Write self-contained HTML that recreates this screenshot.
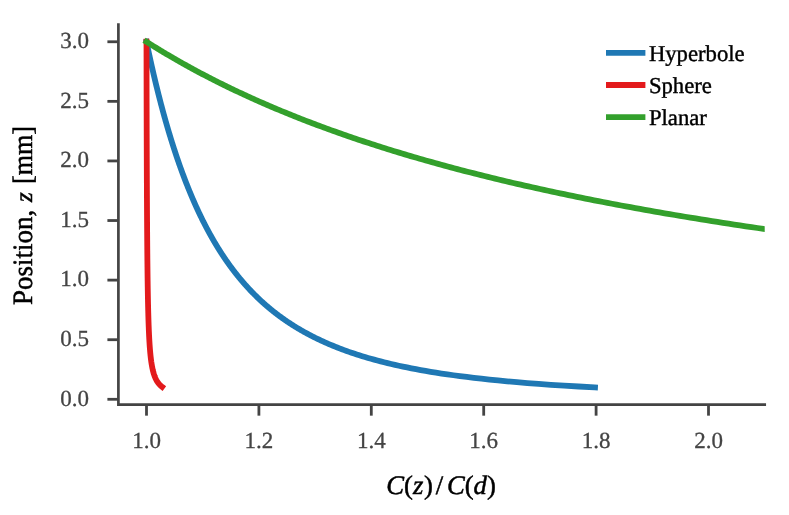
<!DOCTYPE html>
<html><head><meta charset="utf-8"><title>chart</title>
<style>
html,body{margin:0;padding:0;background:#fff;}
body{width:789px;height:515px;overflow:hidden;}
svg{display:block;will-change:transform;}
text{font-family:"Liberation Serif",serif;text-rendering:geometricPrecision;}
.tk{font-size:23px;fill:#444444;stroke:#444444;stroke-width:0.3px;}
.lb{font-size:28px;fill:#000;stroke:#000;stroke-width:0.5px;}
.lg{font-size:22.7px;fill:#000;stroke:#000;stroke-width:0.4px;}
</style></head><body>
<svg width="789" height="515" viewBox="0 0 789 515">
<rect width="789" height="515" fill="#ffffff"/>
<defs><clipPath id="ax"><rect x="118.40" y="24.48" width="646.30" height="380.18"/></clipPath></defs>
<g clip-path="url(#ax)" fill="none" stroke-width="5.8" stroke-linecap="butt" stroke-linejoin="round">
<polyline stroke="#1f78b4" points="597.91,387.55 594.72,387.38 578.68,386.52 564.13,385.65 550.83,384.78 538.61,383.92 527.33,383.05 516.86,382.18 507.12,381.32 498.01,380.45 489.47,379.59 481.44,378.72 473.87,377.85 466.72,376.99 459.94,376.12 453.50,375.25 447.38,374.39 441.54,373.52 435.97,372.66 430.65,371.79 425.55,370.92 420.66,370.06 415.97,369.19 411.45,368.33 407.11,367.46 402.93,366.59 398.89,365.73 395.00,364.86 391.23,363.99 387.59,363.13 384.07,362.26 380.66,361.40 377.35,360.53 374.14,359.66 371.03,358.80 368.00,357.93 365.06,357.06 362.20,356.20 359.42,355.33 356.70,354.47 354.06,353.60 351.49,352.73 348.98,351.87 346.53,351.00 344.14,350.13 341.80,349.27 339.52,348.40 337.29,347.54 335.11,346.67 332.98,345.80 330.89,344.94 328.85,344.07 326.85,343.20 324.89,342.34 322.97,341.47 321.09,340.61 319.25,339.74 317.44,338.87 315.66,338.01 313.92,337.14 312.21,336.27 310.53,335.41 308.88,334.54 307.26,333.68 305.67,332.81 304.11,331.94 302.57,331.08 301.06,330.21 299.57,329.35 298.11,328.48 296.67,327.61 295.25,326.75 293.86,325.88 292.49,325.01 291.14,324.15 289.81,323.28 288.50,322.42 287.21,321.55 285.93,320.68 284.68,319.82 283.44,318.95 282.22,318.08 281.02,317.22 279.84,316.35 278.67,315.49 277.52,314.62 276.38,313.75 275.26,312.89 274.15,312.02 273.06,311.15 271.98,310.29 270.91,309.42 269.86,308.56 268.82,307.69 267.79,306.82 266.78,305.96 265.78,305.09 264.79,304.22 263.81,303.36 262.85,302.49 261.89,301.63 260.95,300.76 260.02,299.89 259.09,299.03 258.18,298.16 257.28,297.30 256.39,296.43 255.51,295.56 254.63,294.70 253.77,293.83 252.92,292.96 252.07,292.10 251.24,291.23 250.41,290.37 249.59,289.50 248.78,288.63 247.98,287.77 247.19,286.90 246.40,286.03 245.62,285.17 244.85,284.30 244.09,283.44 243.34,282.57 242.59,281.70 241.85,280.84 241.11,279.97 240.39,279.10 239.67,278.24 238.95,277.37 238.24,276.51 237.54,275.64 236.85,274.77 236.16,273.91 235.48,273.04 234.81,272.17 234.14,271.31 233.47,270.44 232.81,269.58 232.16,268.71 231.51,267.84 230.87,266.98 230.24,266.11 229.61,265.24 228.98,264.38 228.36,263.51 227.75,262.65 227.14,261.78 226.53,260.91 225.93,260.05 225.34,259.18 224.75,258.32 224.16,257.45 223.58,256.58 223.00,255.72 222.43,254.85 221.86,253.98 221.30,253.12 220.74,252.25 220.19,251.39 219.64,250.52 219.09,249.65 218.55,248.79 218.01,247.92 217.48,247.05 216.95,246.19 216.42,245.32 215.90,244.46 215.38,243.59 214.86,242.72 214.35,241.86 213.84,240.99 213.34,240.12 212.84,239.26 212.34,238.39 211.85,237.53 211.36,236.66 210.87,235.79 210.39,234.93 209.90,234.06 209.43,233.19 208.95,232.33 208.48,231.46 208.01,230.60 207.55,229.73 207.09,228.86 206.63,228.00 206.17,227.13 205.72,226.26 205.27,225.40 204.82,224.53 204.38,223.67 203.94,222.80 203.50,221.93 203.06,221.07 202.63,220.20 202.20,219.34 201.77,218.47 201.35,217.60 200.93,216.74 200.51,215.87 200.09,215.00 199.67,214.14 199.26,213.27 198.85,212.41 198.44,211.54 198.04,210.67 197.64,209.81 197.24,208.94 196.84,208.07 196.44,207.21 196.05,206.34 195.66,205.48 195.27,204.61 194.88,203.74 194.50,202.88 194.12,202.01 193.74,201.14 193.36,200.28 192.98,199.41 192.61,198.55 192.24,197.68 191.87,196.81 191.50,195.95 191.13,195.08 190.77,194.21 190.41,193.35 190.05,192.48 189.69,191.62 189.33,190.75 188.98,189.88 188.63,189.02 188.28,188.15 187.93,187.29 187.58,186.42 187.24,185.55 186.89,184.69 186.55,183.82 186.21,182.95 185.87,182.09 185.54,181.22 185.20,180.36 184.87,179.49 184.54,178.62 184.21,177.76 183.88,176.89 183.56,176.02 183.23,175.16 182.91,174.29 182.59,173.43 182.27,172.56 181.95,171.69 181.63,170.83 181.32,169.96 181.00,169.09 180.69,168.23 180.38,167.36 180.07,166.50 179.76,165.63 179.46,164.76 179.15,163.90 178.85,163.03 178.55,162.16 178.25,161.30 177.95,160.43 177.65,159.57 177.35,158.70 177.06,157.83 176.77,156.97 176.47,156.10 176.18,155.23 175.89,154.37 175.60,153.50 175.32,152.64 175.03,151.77 174.75,150.90 174.46,150.04 174.18,149.17 173.90,148.31 173.62,147.44 173.34,146.57 173.06,145.71 172.79,144.84 172.51,143.97 172.24,143.11 171.97,142.24 171.70,141.38 171.43,140.51 171.16,139.64 170.89,138.78 170.62,137.91 170.36,137.04 170.09,136.18 169.83,135.31 169.57,134.45 169.31,133.58 169.05,132.71 168.79,131.85 168.53,130.98 168.27,130.11 168.02,129.25 167.76,128.38 167.51,127.52 167.26,126.65 167.00,125.78 166.75,124.92 166.50,124.05 166.25,123.18 166.01,122.32 165.76,121.45 165.51,120.59 165.27,119.72 165.03,118.85 164.78,117.99 164.54,117.12 164.30,116.25 164.06,115.39 163.82,114.52 163.58,113.66 163.35,112.79 163.11,111.92 162.87,111.06 162.64,110.19 162.41,109.33 162.17,108.46 161.94,107.59 161.71,106.73 161.48,105.86 161.25,104.99 161.02,104.13 160.79,103.26 160.57,102.40 160.34,101.53 160.12,100.66 159.89,99.80 159.67,98.93 159.45,98.06 159.22,97.20 159.00,96.33 158.78,95.47 158.56,94.60 158.34,93.73 158.13,92.87 157.91,92.00 157.69,91.13 157.48,90.27 157.26,89.40 157.05,88.54 156.84,87.67 156.62,86.80 156.41,85.94 156.20,85.07 155.99,84.20 155.78,83.34 155.57,82.47 155.36,81.61 155.16,80.74 154.95,79.87 154.74,79.01 154.54,78.14 154.33,77.28 154.13,76.41 153.93,75.54 153.72,74.68 153.52,73.81 153.32,72.94 153.12,72.08 152.92,71.21 152.72,70.35 152.52,69.48 152.33,68.61 152.13,67.75 151.93,66.88 151.74,66.01 151.54,65.15 151.35,64.28 151.15,63.42 150.96,62.55 150.77,61.68 150.57,60.82 150.38,59.95 150.19,59.08 150.00,58.22 149.81,57.35 149.62,56.49 149.44,55.62 149.25,54.75 149.06,53.89 148.87,53.02 148.69,52.15 148.50,51.29 148.32,50.42 148.13,49.56 147.95,48.69 147.77,47.82 147.58,46.96 147.40,46.09 147.22,45.22 147.04,44.36 146.86,43.49 146.68,42.63 146.50,41.76 145.90,38.87"/>
<polyline stroke="#e31a1c" points="164.37,388.59 162.78,387.38 161.64,386.52 160.64,385.65 159.77,384.78 158.99,383.92 158.29,383.05 157.67,382.18 157.10,381.32 156.59,380.45 156.12,379.59 155.69,378.72 155.30,377.85 154.94,376.99 154.60,376.12 154.29,375.25 154.00,374.39 153.73,373.52 153.47,372.66 153.24,371.79 153.01,370.92 152.80,370.06 152.61,369.19 152.42,368.33 152.24,367.46 152.08,366.59 151.92,365.73 151.77,364.86 151.62,363.99 151.49,363.13 151.36,362.26 151.23,361.40 151.12,360.53 151.00,359.66 150.89,358.80 150.79,357.93 150.69,357.06 150.60,356.20 150.50,355.33 150.42,354.47 150.33,353.60 150.25,352.73 150.17,351.87 150.09,351.00 150.02,350.13 149.95,349.27 149.88,348.40 149.82,347.54 149.75,346.67 149.69,345.80 149.63,344.94 149.57,344.07 149.52,343.20 149.46,342.34 149.41,341.47 149.36,340.61 149.31,339.74 149.26,338.87 149.21,338.01 149.17,337.14 149.12,336.27 149.08,335.41 149.04,334.54 149.00,333.68 148.96,332.81 148.92,331.94 148.88,331.08 148.84,330.21 148.81,329.35 148.77,328.48 148.74,327.61 148.71,326.75 148.67,325.88 148.64,325.01 148.61,324.15 148.58,323.28 148.55,322.42 148.52,321.55 148.49,320.68 148.46,319.82 148.44,318.95 148.41,318.08 148.38,317.22 148.36,316.35 148.33,315.49 148.31,314.62 148.29,313.75 148.26,312.89 148.24,312.02 148.22,311.15 148.19,310.29 148.17,309.42 148.15,308.56 148.13,307.69 148.11,306.82 148.09,305.96 148.07,305.09 148.05,304.22 148.03,303.36 148.01,302.49 147.99,301.63 147.98,300.76 147.96,299.89 147.94,299.03 147.92,298.16 147.91,297.30 147.89,296.43 147.87,295.56 147.86,294.70 147.84,293.83 147.83,292.96 147.81,292.10 147.80,291.23 147.78,290.37 147.77,289.50 147.75,288.63 147.74,287.77 147.72,286.90 147.71,286.03 147.70,285.17 147.68,284.30 147.67,283.44 147.66,282.57 147.65,281.70 147.63,280.84 147.62,279.97 147.61,279.10 147.60,278.24 147.58,277.37 147.57,276.51 147.56,275.64 147.55,274.77 147.54,273.91 147.53,273.04 147.52,272.17 147.51,271.31 147.50,270.44 147.49,269.58 147.48,268.71 147.47,267.84 147.46,266.98 147.45,266.11 147.44,265.24 147.43,264.38 147.42,263.51 147.41,262.65 147.40,261.78 147.39,260.91 147.38,260.05 147.37,259.18 147.36,258.32 147.35,257.45 147.35,256.58 147.34,255.72 147.33,254.85 147.32,253.98 147.31,253.12 147.30,252.25 147.30,251.39 147.29,250.52 147.28,249.65 147.27,248.79 147.26,247.92 147.26,247.05 147.25,246.19 147.24,245.32 147.23,244.46 147.23,243.59 147.22,242.72 147.21,241.86 147.21,240.99 147.20,240.12 147.19,239.26 147.19,238.39 147.18,237.53 147.17,236.66 147.17,235.79 147.16,234.93 147.15,234.06 147.15,233.19 147.14,232.33 147.13,231.46 147.13,230.60 147.12,229.73 147.12,228.86 147.11,228.00 147.10,227.13 147.10,226.26 147.09,225.40 147.09,224.53 147.08,223.67 147.08,222.80 147.07,221.93 147.06,221.07 147.06,220.20 147.05,219.34 147.05,218.47 147.04,217.60 147.04,216.74 147.03,215.87 147.03,215.00 147.02,214.14 147.02,213.27 147.01,212.41 147.01,211.54 147.00,210.67 147.00,209.81 146.99,208.94 146.99,208.07 146.98,207.21 146.98,206.34 146.97,205.48 146.97,204.61 146.97,203.74 146.96,202.88 146.96,202.01 146.95,201.14 146.95,200.28 146.94,199.41 146.94,198.55 146.93,197.68 146.93,196.81 146.93,195.95 146.92,195.08 146.92,194.21 146.91,193.35 146.91,192.48 146.91,191.62 146.90,190.75 146.90,189.88 146.89,189.02 146.89,188.15 146.89,187.29 146.88,186.42 146.88,185.55 146.87,184.69 146.87,183.82 146.87,182.95 146.86,182.09 146.86,181.22 146.86,180.36 146.85,179.49 146.85,178.62 146.84,177.76 146.84,176.89 146.84,176.02 146.83,175.16 146.83,174.29 146.83,173.43 146.82,172.56 146.82,171.69 146.82,170.83 146.81,169.96 146.81,169.09 146.81,168.23 146.80,167.36 146.80,166.50 146.80,165.63 146.79,164.76 146.79,163.90 146.79,163.03 146.79,162.16 146.78,161.30 146.78,160.43 146.78,159.57 146.77,158.70 146.77,157.83 146.77,156.97 146.76,156.10 146.76,155.23 146.76,154.37 146.76,153.50 146.75,152.64 146.75,151.77 146.75,150.90 146.74,150.04 146.74,149.17 146.74,148.31 146.74,147.44 146.73,146.57 146.73,145.71 146.73,144.84 146.72,143.97 146.72,143.11 146.72,142.24 146.72,141.38 146.71,140.51 146.71,139.64 146.71,138.78 146.71,137.91 146.70,137.04 146.70,136.18 146.70,135.31 146.70,134.45 146.69,133.58 146.69,132.71 146.69,131.85 146.69,130.98 146.68,130.11 146.68,129.25 146.68,128.38 146.68,127.52 146.67,126.65 146.67,125.78 146.67,124.92 146.67,124.05 146.67,123.18 146.66,122.32 146.66,121.45 146.66,120.59 146.66,119.72 146.65,118.85 146.65,117.99 146.65,117.12 146.65,116.25 146.65,115.39 146.64,114.52 146.64,113.66 146.64,112.79 146.64,111.92 146.63,111.06 146.63,110.19 146.63,109.33 146.63,108.46 146.63,107.59 146.62,106.73 146.62,105.86 146.62,104.99 146.62,104.13 146.62,103.26 146.61,102.40 146.61,101.53 146.61,100.66 146.61,99.80 146.61,98.93 146.60,98.06 146.60,97.20 146.60,96.33 146.60,95.47 146.60,94.60 146.60,93.73 146.59,92.87 146.59,92.00 146.59,91.13 146.59,90.27 146.59,89.40 146.58,88.54 146.58,87.67 146.58,86.80 146.58,85.94 146.58,85.07 146.58,84.20 146.57,83.34 146.57,82.47 146.57,81.61 146.57,80.74 146.57,79.87 146.57,79.01 146.56,78.14 146.56,77.28 146.56,76.41 146.56,75.54 146.56,74.68 146.56,73.81 146.55,72.94 146.55,72.08 146.55,71.21 146.55,70.35 146.55,69.48 146.55,68.61 146.54,67.75 146.54,66.88 146.54,66.01 146.54,65.15 146.54,64.28 146.54,63.42 146.53,62.55 146.53,61.68 146.53,60.82 146.53,59.95 146.53,59.08 146.53,58.22 146.53,57.35 146.52,56.49 146.52,55.62 146.52,54.75 146.52,53.89 146.52,53.02 146.52,52.15 146.52,51.29 146.51,50.42 146.51,49.56 146.51,48.69 146.51,47.82 146.51,46.96 146.51,46.09 146.51,45.22 146.50,44.36 146.50,43.49 146.50,42.63 146.50,41.76 146.50,38.81"/>
<polyline stroke="#33a02c" points="16449.50,387.39 16444.50,387.38 15302.12,386.52 14304.72,385.65 13426.35,384.78 12646.91,383.92 11950.57,383.05 11324.71,382.18 10759.15,381.32 10245.58,380.45 9777.14,379.59 9348.13,378.72 8953.78,377.85 8590.04,376.99 8253.49,376.12 7941.20,375.25 7650.62,374.39 7379.56,373.52 7126.14,372.66 6888.67,371.79 6665.70,370.92 6455.94,370.06 6258.25,369.19 6071.62,368.33 5895.14,367.46 5728.01,366.59 5569.50,365.73 5418.97,364.86 5275.82,363.99 5139.53,363.13 5009.61,362.26 4885.63,361.40 4767.20,360.53 4653.93,359.66 4545.52,358.80 4441.64,357.93 4342.02,357.06 4246.41,356.20 4154.57,355.33 4066.27,354.47 3981.32,353.60 3899.54,352.73 3820.73,351.87 3744.76,351.00 3671.46,350.13 3600.70,349.27 3532.35,348.40 3466.29,347.54 3402.40,346.67 3340.58,345.80 3280.73,344.94 3222.76,344.07 3166.58,343.20 3112.10,342.34 3059.26,341.47 3007.98,340.61 2958.19,339.74 2909.83,338.87 2862.83,338.01 2817.15,337.14 2772.72,336.27 2729.49,335.41 2687.42,334.54 2646.47,333.68 2606.58,332.81 2567.71,331.94 2529.83,331.08 2492.90,330.21 2456.89,329.35 2421.76,328.48 2387.48,327.61 2354.01,326.75 2321.33,325.88 2289.42,325.01 2258.24,324.15 2227.78,323.28 2198.00,322.42 2168.88,321.55 2140.40,320.68 2112.55,319.82 2085.30,318.95 2058.62,318.08 2032.51,317.22 2006.95,316.35 1981.91,315.49 1957.39,314.62 1933.36,313.75 1909.82,312.89 1886.74,312.02 1864.11,311.15 1841.93,310.29 1820.17,309.42 1798.83,308.56 1777.89,307.69 1757.35,306.82 1737.18,305.96 1717.39,305.09 1697.96,304.22 1678.88,303.36 1660.14,302.49 1641.73,301.63 1623.65,300.76 1605.88,299.89 1588.41,299.03 1571.25,298.16 1554.38,297.30 1537.79,296.43 1521.48,295.56 1505.44,294.70 1489.67,293.83 1474.15,292.96 1458.88,292.10 1443.85,291.23 1429.07,290.37 1414.52,289.50 1400.19,288.63 1386.09,287.77 1372.21,286.90 1358.53,286.03 1345.07,285.17 1331.81,284.30 1318.75,283.44 1305.88,282.57 1293.20,281.70 1280.70,280.84 1268.39,279.97 1256.25,279.10 1244.29,278.24 1232.50,277.37 1220.88,276.51 1209.41,275.64 1198.11,274.77 1186.96,273.91 1175.97,273.04 1165.12,272.17 1154.43,271.31 1143.87,270.44 1133.46,269.58 1123.19,268.71 1113.05,267.84 1103.04,266.98 1093.17,266.11 1083.42,265.24 1073.79,264.38 1064.29,263.51 1054.91,262.65 1045.65,261.78 1036.51,260.91 1027.47,260.05 1018.55,259.18 1009.74,258.32 1001.04,257.45 992.44,256.58 983.95,255.72 975.55,254.85 967.26,253.98 959.07,253.12 950.97,252.25 942.97,251.39 935.06,250.52 927.24,249.65 919.51,248.79 911.88,247.92 904.32,247.05 896.86,246.19 889.47,245.32 882.17,244.46 874.95,243.59 867.82,242.72 860.75,241.86 853.77,240.99 846.86,240.12 840.03,239.26 833.27,238.39 826.59,237.53 819.97,236.66 813.43,235.79 806.95,234.93 800.54,234.06 794.20,233.19 787.92,232.33 781.71,231.46 775.57,230.60 769.48,229.73 763.46,228.86 757.50,228.00 751.60,227.13 745.75,226.26 739.97,225.40 734.24,224.53 728.57,223.67 722.96,222.80 717.40,221.93 711.89,221.07 706.44,220.20 701.04,219.34 695.69,218.47 690.39,217.60 685.14,216.74 679.95,215.87 674.80,215.00 669.70,214.14 664.64,213.27 659.64,212.41 654.68,211.54 649.76,210.67 644.89,209.81 640.07,208.94 635.29,208.07 630.55,207.21 625.85,206.34 621.20,205.48 616.59,204.61 612.01,203.74 607.48,202.88 602.99,202.01 598.54,201.14 594.13,200.28 589.75,199.41 585.41,198.55 581.11,197.68 576.85,196.81 572.62,195.95 568.43,195.08 564.28,194.21 560.15,193.35 556.07,192.48 552.02,191.62 548.00,190.75 544.01,189.88 540.06,189.02 536.14,188.15 532.25,187.29 528.40,186.42 524.57,185.55 520.78,184.69 517.01,183.82 513.28,182.95 509.57,182.09 505.90,181.22 502.25,180.36 498.64,179.49 495.05,178.62 491.49,177.76 487.96,176.89 484.45,176.02 480.97,175.16 477.52,174.29 474.10,173.43 470.70,172.56 467.33,171.69 463.98,170.83 460.66,169.96 457.36,169.09 454.09,168.23 450.84,167.36 447.62,166.50 444.42,165.63 441.24,164.76 438.09,163.90 434.96,163.03 431.85,162.16 428.77,161.30 425.71,160.43 422.67,159.57 419.65,158.70 416.65,157.83 413.68,156.97 410.73,156.10 407.79,155.23 404.88,154.37 401.99,153.50 399.12,152.64 396.27,151.77 393.44,150.90 390.63,150.04 387.84,149.17 385.06,148.31 382.31,147.44 379.58,146.57 376.86,145.71 374.16,144.84 371.48,143.97 368.82,143.11 366.18,142.24 363.56,141.38 360.95,140.51 358.36,139.64 355.78,138.78 353.23,137.91 350.69,137.04 348.17,136.18 345.66,135.31 343.17,134.45 340.70,133.58 338.24,132.71 335.80,131.85 333.37,130.98 330.96,130.11 328.57,129.25 326.19,128.38 323.83,127.52 321.48,126.65 319.14,125.78 316.83,124.92 314.52,124.05 312.23,123.18 309.95,122.32 307.69,121.45 305.45,120.59 303.21,119.72 300.99,118.85 298.79,117.99 296.59,117.12 294.41,116.25 292.25,115.39 290.09,114.52 287.95,113.66 285.83,112.79 283.71,111.92 281.61,111.06 279.52,110.19 277.45,109.33 275.38,108.46 273.33,107.59 271.29,106.73 269.27,105.86 267.25,104.99 265.25,104.13 263.25,103.26 261.27,102.40 259.31,101.53 257.35,100.66 255.40,99.80 253.47,98.93 251.54,98.06 249.63,97.20 247.73,96.33 245.84,95.47 243.96,94.60 242.09,93.73 240.23,92.87 238.38,92.00 236.54,91.13 234.72,90.27 232.90,89.40 231.09,88.54 229.29,87.67 227.51,86.80 225.73,85.94 223.96,85.07 222.20,84.20 220.46,83.34 218.72,82.47 216.99,81.61 215.27,80.74 213.56,79.87 211.86,79.01 210.16,78.14 208.48,77.28 206.81,76.41 205.14,75.54 203.49,74.68 201.84,73.81 200.20,72.94 198.57,72.08 196.95,71.21 195.34,70.35 193.73,69.48 192.14,68.61 190.55,67.75 188.97,66.88 187.40,66.01 185.84,65.15 184.28,64.28 182.73,63.42 181.20,62.55 179.66,61.68 178.14,60.82 176.63,59.95 175.12,59.08 173.62,58.22 172.13,57.35 170.64,56.49 169.16,55.62 167.69,54.75 166.23,53.89 164.78,53.02 163.33,52.15 161.89,51.29 160.45,50.42 159.03,49.56 157.61,48.69 156.20,47.82 154.79,46.96 153.39,46.09 152.00,45.22 150.61,44.36 149.24,43.49 147.86,42.63 146.50,41.76 144.01,40.18"/>
</g>
<g stroke="#444444" fill="none">

<line x1="146.50" x2="146.50" y1="404.66" y2="415.66" stroke-width="2.8"/>
<line x1="258.90" x2="258.90" y1="404.66" y2="415.66" stroke-width="2.8"/>
<line x1="371.30" x2="371.30" y1="404.66" y2="415.66" stroke-width="2.8"/>
<line x1="483.70" x2="483.70" y1="404.66" y2="415.66" stroke-width="2.8"/>
<line x1="596.10" x2="596.10" y1="404.66" y2="415.66" stroke-width="2.8"/>
<line x1="708.50" x2="708.50" y1="404.66" y2="415.66" stroke-width="2.8"/>
<line y1="399.30" y2="399.30" x1="118.40" x2="107.40" stroke-width="2.8"/>
<line y1="339.71" y2="339.71" x1="118.40" x2="107.40" stroke-width="2.8"/>
<line y1="280.12" y2="280.12" x1="118.40" x2="107.40" stroke-width="2.8"/>
<line y1="220.53" y2="220.53" x1="118.40" x2="107.40" stroke-width="2.8"/>
<line y1="160.94" y2="160.94" x1="118.40" x2="107.40" stroke-width="2.8"/>
<line y1="101.35" y2="101.35" x1="118.40" x2="107.40" stroke-width="2.8"/>
<line y1="41.76" y2="41.76" x1="118.40" x2="107.40" stroke-width="2.8"/>
<path d="M118.40,24.48 L118.40,404.66 L764.70,404.66" stroke-width="2.7" stroke-linecap="square" stroke-linejoin="miter"/>
</g>
<text class="tk" x="146.50" y="448.0" text-anchor="middle">1.0</text>
<text class="tk" x="258.90" y="448.0" text-anchor="middle">1.2</text>
<text class="tk" x="371.30" y="448.0" text-anchor="middle">1.4</text>
<text class="tk" x="483.70" y="448.0" text-anchor="middle">1.6</text>
<text class="tk" x="596.10" y="448.0" text-anchor="middle">1.8</text>
<text class="tk" x="708.50" y="448.0" text-anchor="middle">2.0</text>
<text class="tk" x="88.9" y="405.55" text-anchor="end">0.0</text>
<text class="tk" x="88.9" y="345.96" text-anchor="end">0.5</text>
<text class="tk" x="88.9" y="286.37" text-anchor="end">1.0</text>
<text class="tk" x="88.9" y="226.78" text-anchor="end">1.5</text>
<text class="tk" x="88.9" y="167.19" text-anchor="end">2.0</text>
<text class="tk" x="88.9" y="107.60" text-anchor="end">2.5</text>
<text class="tk" x="88.9" y="48.01" text-anchor="end">3.0</text>
<text class="lb" style="font-size:28px" transform="translate(31.8,304.9) rotate(-90) scale(0.963,1)">Position,</text>
<text class="lb" style="font-size:25px" font-style="italic" transform="translate(31.8,201.9) rotate(-90) scale(1.0,1)">z</text>
<text class="lb" style="font-size:28px" transform="translate(31.8,184.0) rotate(-90) scale(0.93,1)">[mm]</text>
<text class="lb" style="font-size:26.7px" transform="translate(441.0,494.35) scale(1.0,1)" text-anchor="middle"><tspan font-style="italic">C</tspan>(<tspan font-style="italic">z</tspan><tspan dx="0.6">)</tspan><tspan dx="2.9">/</tspan><tspan dx="3.8" font-style="italic">C</tspan>(<tspan font-style="italic">d</tspan>)</text>
<line x1="608.9" x2="642.5" y1="52.90" y2="52.90" stroke="#1f78b4" stroke-width="5.8" stroke-linecap="square"/>
<text class="lg" x="648.9" y="60.60">Hyperbole</text>
<line x1="608.9" x2="642.5" y1="85.00" y2="85.00" stroke="#e31a1c" stroke-width="5.8" stroke-linecap="square"/>
<text class="lg" x="648.9" y="92.70">Sphere</text>
<line x1="608.9" x2="642.5" y1="117.10" y2="117.10" stroke="#33a02c" stroke-width="5.8" stroke-linecap="square"/>
<text class="lg" x="648.9" y="124.80">Planar</text>
</svg></body></html>
